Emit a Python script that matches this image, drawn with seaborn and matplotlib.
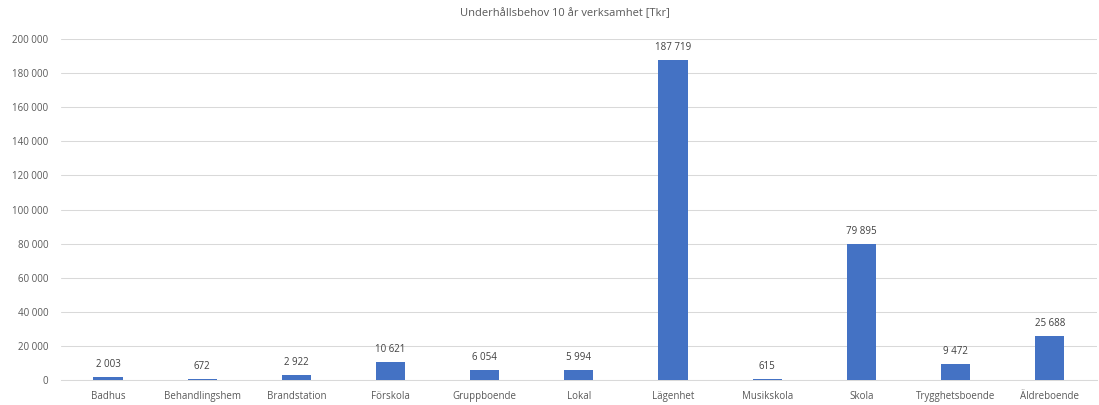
import pandas as pd
import matplotlib
matplotlib.use("Agg")
import matplotlib.pyplot as plt
import seaborn as sns
from matplotlib.ticker import FuncFormatter, MultipleLocator

# === Data ===
kategorier = ["Badhus", "Behandlingshem", "Brandstation", "Förskola", "Gruppboende",
              "Lokal", "Lägenhet", "Musikskola", "Skola", "Trygghetsboende", "Äldreboende"]
underhall = [2003, 672, 2922, 10621, 6054, 5994, 187719, 615, 79895, 9472, 25688]

df = pd.DataFrame({"Kategori": kategorier, "Tkr": underhall})

def fmt(v):
    return f"{int(round(v)):,}".replace(",", " ")

sns.set_theme(style="white")
plt.rcParams["font.family"] = ["Open Sans", "DejaVu Sans"]
textfarg = "#595959"

fig = plt.figure(figsize=(10.99, 4.05), dpi=100)
ax = fig.add_axes([0.0555, 0.0617, 0.9425, 0.842])

sns.barplot(data=df, x="Kategori", y="Tkr", color="#4472C4", width=0.31,
            saturation=1, linewidth=0, ax=ax, zorder=3)

ax.set_ylim(0, 200000)
ax.set_xlim(-0.5, len(kategorier) - 0.5)
ax.yaxis.set_major_locator(MultipleLocator(20000))
ax.yaxis.set_major_formatter(FuncFormatter(lambda v, p: fmt(v)))
ax.grid(axis="y", color="#D9D9D9", linewidth=0.75, zorder=0)
ax.set_axisbelow(True)
for s in ["top", "right", "left"]:
    ax.spines[s].set_visible(False)
ax.spines["bottom"].set_color("#D9D9D9")
ax.spines["bottom"].set_linewidth(0.75)

ax.tick_params(axis="both", length=0, labelsize=7, colors=textfarg, pad=8)
ax.tick_params(axis="y", pad=9)
ax.set_xlabel("")
ax.set_ylabel("")

# Dataetiketter
for i, v in enumerate(underhall):
    ax.annotate(fmt(v), (i, v), xytext=(0, 5), textcoords="offset points",
                ha="center", va="bottom", fontsize=7, color="#404040")

fig.text(565 / 1099, 1 - 14 / 405, "Underhållsbehov 10 år verksamhet [Tkr]",
         ha="center", va="center", fontsize=8, color=textfarg)

fig.savefig("out.png", dpi=100, facecolor="white")
